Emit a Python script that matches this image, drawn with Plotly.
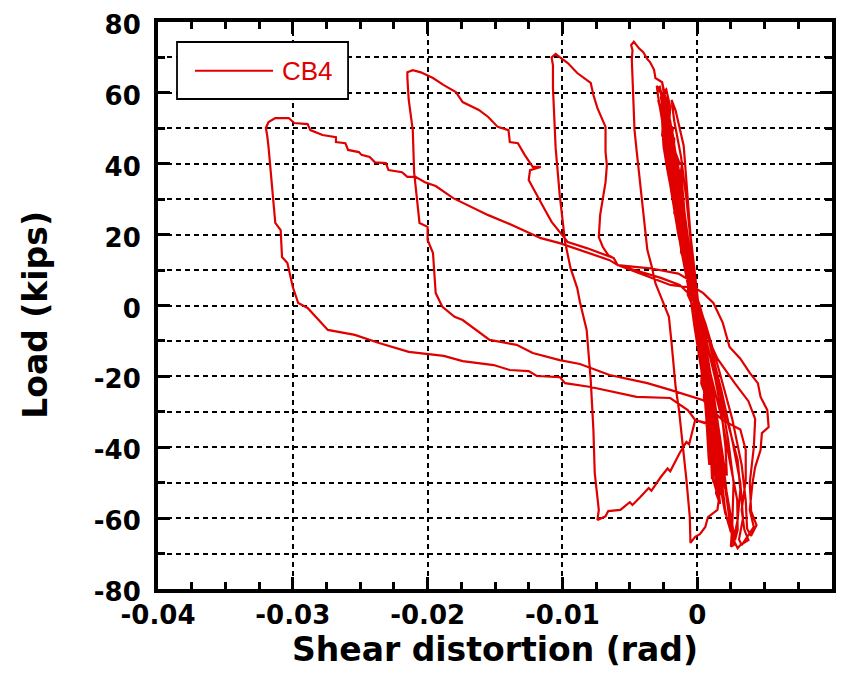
import numpy as np
import plotly.graph_objects as go

# Specimen CB4: coupling-beam shear distortion (mrad) vs. applied load (kips),
# listed cycle by cycle in the order the load history was applied.

small_gamma = [0, -0.3, -0.6, -0.8, -0.6, -0.2, 0.2, 0.5, 0.7, 0.5, 0.1, -0.4,
               -0.8, -1.1, -1.2, -1.0, -0.5, 0.1, 0.6, 0.9, 1.0, 0.8, 0.3, -0.3,
               -0.9, -1.3, -1.5, -1.3, -0.8, -0.2, 0.5, 0.9, 1.1, 0.95, 0.4, -0.2,
               -0.8, -1.2, -1.1, -1.3, -1.6, -1.8, -1.6, -1.0, -0.3, 0.4, 0.8, 1.1, 1.2, 1.0, 0.5, 0.0]
small_load = [0, 8, 16, 21, 17, 6, -6, -15, -21, -16, -4, 9,
              20, 29, 32, 27, 12, -3, -18, -28, -32, -26, -9, 6,
              22, 34, 41, 37, 22, 4, -17, -32, -41, -36, -14, 3,
              20, 38, 40.5, 40, 43, 47, 43, 28, 8, -12, -30, -44, -47, -40, -20, -2]

bundle_a_gamma = [-0.5, -1.1, -1.5, -1.7, -1.9, -1.8, -1.5, -1.2, -1.25, -0.8, -0.3, 0.2, 0.5, 0.8,
                  0.9, 0.85, 0.7, 0.4, 0.0, -0.6, -1.2, -1.7, -2.0, -2.2, -2.1, -1.8, -1.4, -1.45,
                  -0.9, -0.3, 0.3, 0.7, 1.0, 1.2, 1.15, 0.9, 0.5, 0.1, -0.7, -1.4, -1.8, -2.0, -1.9,
                  -1.6, -1.1, -0.5, 0.2, 0.7, 1.1, 1.3, 1.25, 0.9, 0.4, 0.0]
bundle_a_load = [10, 27, 38, 44, 50, 48, 40, 31, 30, 18, 5, -10, -22, -35,
                 -45, -43, -33, -18, -4, 12, 30, 45, 52, 55, 53, 45, 33, 31,
                 17, 3, -12, -28, -40, -50, -48, -35, -18, -3, 15, 35, 46, 52, 50,
                 40, 25, 8, -8, -26, -40, -48, -45, -30, -12, 0]

c64_gamma = [-0.6, -1.2, -1.7, -2.1, -2.4, -2.6, -2.5, -2.2, -1.9, -1.5, -1.0, -0.4, 0.3, 0.8, 1.0,
             1.1, 1.15, 0.9, 0.4, -0.2, -0.9, -1.6, -2.0, -2.3, -2.1, -1.7, -1.2, -0.5, 0.4, 1.0,
             1.4, 1.6, 1.75, 1.5, 1.1, 0.4, -0.3]
c64_load = [10, 26, 40, 51, 58, 63, 61, 53, 45, 34, 20, 5, -12, -30, -40,
            -49, -46, -32, -14, 2, 20, 37, 49, 57, 54, 42, 27, 8, -13, -35,
            -48, -54, -52, -50, -36, -12, 4]

bundle_b_gamma = [-0.8, -1.5, -2.0, -2.3, -2.5, -2.4, -2.1, -2.15, -1.7, -1.1, -0.5, 0.2, 0.7, 1.1,
                  1.4, 1.6, 1.5, 1.2, 0.7, 0.2, -0.6, -1.3, -1.9, -2.3, -2.7, -2.8, -2.6, -2.2,
                  -1.7, -1.0, -0.3, 0.4, 1.0, 1.5, 1.9, 2.1, 2.0, 1.6, 1.0, 0.3, -0.5, -1.3, -2.0,
                  -2.4, -2.8, -2.7, -2.3, -2.0, -1.5, -0.9, -0.2, 0.5, 1.1, 1.7, 2.2, 2.5, 2.4, 2.1,
                  1.5, 0.8, 0.1]
bundle_b_load = [18, 36, 48, 55, 60, 58, 50, 48, 36, 20, 6, -8, -24, -38,
                 -48, -55, -52, -40, -22, -6, 12, 30, 45, 54, 61, 62, 58, 47,
                 33, 16, 2, -14, -32, -46, -55, -59, -55, -42, -24, -6, 9, 30, 48,
                 56, 62, 60, 50, 43, 30, 15, 0, -16, -35, -50, -60, -64, -60, -50,
                 -34, -16, -2]

bundle_c_gamma = [0.2, -0.4, -0.3, -0.9, -0.8, -1.4, -1.2, -1.8, -1.6, -2.1, -1.9, -2.4, -2.2, -2.6, -2.3,
                  -2.0, -2.1, -1.7, -1.8, -1.3, -1.4, -0.9, -1.0, -0.5, -0.6, -0.1, 0.2, 0.1, 0.6, 0.5,
                  0.9, 0.8, 1.2, 1.1, 1.4, 1.3,
                  0.9, 1.0, 0.5, 0.6, 0.1, 0.2, -0.3, -0.2, -0.8, -0.6, -1.2, -1.0, -1.6, -1.4, -2.0,
                  -1.8, -2.4, -2.2, -2.7,
                  -2.5, -2.6, -2.0, -2.2, -1.6, -1.7, -1.1, -1.2, -0.6, -0.7, -0.1, 0.0, 0.4, 0.3, 0.8,
                  0.7, 1.1, 1.0, 1.5, 1.4, 1.7, 1.5,
                  1.2, 0.7, 0.3, -0.2, -0.7, -1.3, -1.9, -2.5, -2.9, -2.7, -2.3, -1.8, -1.2, -0.6, 0.0,
                  0.5, 1.0, 1.6, 1.9, 1.8, 1.3, 0.6, 0.0]
bundle_c_load = [-2, 8, 10, 18, 21, 28, 31, 38, 40, 46, 49, 55, 58, 60, 61,
                 56, 50, 47, 41, 36, 30, 24, 18, 12, 6, 0, -6, -12, -18, -24,
                 -30, -36, -42, -48, -52, -46,
                 -38, -32, -26, -20, -14, -8, -2, 4, 10, 16, 22, 28, 34, 40, 44,
                 50, 53, 57, 59,
                 54, 48, 44, 38, 33, 26, 22, 15, 10, 3, -2, -10, -15, -22, -27,
                 -34, -38, -44, -47, -53, -56, -50,
                 -40, -30, -18, -6, 8, 22, 38, 52, 58, 55, 44, 30, 16, 4, -8,
                 -20, -33, -46, -53, -48, -36, -18, -2]

bundle_d_gamma = [0.1, -0.5, -0.7, -0.9, -1.0, -1.3, -1.6, -1.9, -1.7, -1.2, -0.8, -0.4, 0.1, 0.8,
                  1.3, 1.8, 2.1, 2.2, 2.0, 1.6, 1.1, 0.5, -0.3, -1.1, -1.7, -2.2, -2.5, -2.6, -2.7,
                  -2.5, -2.4, -2.0, -1.4, -0.6, 0.2, 0.6, 1.0, 1.5, 1.9, 2.1, 1.9, 1.4, 0.8, 0.2]
bundle_d_load = [0, 20, 30, 40, 45, 50, 55, 58, 52, 42, 30, 15, 0, -12,
                 -20, -30, -40, -48, -45, -35, -22, -8, 8, 18, 28, 38, 45, 52, 57,
                 55, 46, 34, 20, 6, -6, -16, -26, -36, -44, -50, -47, -34, -18, -4]

c74_gamma = [-1.0, -1.6, -2.0, -2.2, -2.4, -2.6, -3.1, -3.2, -3.5, -3.7, -4.0, -4.3, -4.7, -4.9,
             -4.8, -4.85, -4.75, -4.65, -4.5, -4.3, -4.1, -3.95, -3.7, -3.4, -3.1, -2.6, -2.1,
             -1.9, -1.8, -1.6, -1.35, -1.1, -0.8, -0.55, -0.5, -0.15, 0.2, 0.6, 0.8, 1.5, 1.7,
             1.4, 0.9, 0.3, -0.3]
c74_load = [18, 35, 48, 57, 59.4, 63, 64.2, 66.5, 68.7, 69.5, 71.5, 72.5, 74.4, 73.5,
            72, 69.4, 58, 49.5, 43.9, 36.8, 29.8, 22.7, 15.7, 11.4, 6.3, 1.6, -3.2,
            -10.6, -15.4, -23, -29.5, -38, -49.2, -59.7, -67, -65.3, -64.5, -62.5, -59.7, -57.7, -52,
            -42, -27, -9, 4]

c74b_gamma = [-1.1, -1.8, -2.3, -2.7, -3.0, -2.9, -2.5, -2.0, -1.3, -0.6, 0.45, 1.2, 1.9, 2.4,
              3.2, 3.9, 4.5, 4.7, 5.2, 5.3, 4.8, 4.7, 4.3, 4.1, 3.9, 4.2, 3.8, 3.3, 3.1, 3.4,
              3.2, 2.6, 1.8, 0.9, 0.2, -0.5]
c74b_load = [22, 40, 52, 60, 62, 59, 50, 38, 22, 6, 3.5, 0.7, -4.9, -11.7,
             -15, -19, -21.9, -25.8, -29.5, -34.3, -36, -40.8, -45.6, -50.1, -57.7, -62.5, -64.8, -67.6, -66, -60,
             -50, -38, -24, -10, 0, 7]

c70_gamma = [-1.4, -3.5, -5.9, -6.2, -6.6, -7.0, -7.3, -7.2, -7.0, -6.8, -6.7, -6.8, -6.8, -7.0,
             -7.4, -7.7, -7.9, -8.9, -9.6, -10.2, -10.5, -10.8, -10.7, -10.7, -10.5, -10.2, -10.0,
             -9.8, -9.4, -8.9, -8.7, -8.2, -7.9, -7.7, -7.6, -7.3, -7.4,
             -6.8, -6.6, -5.7, -5.0, -4.8, -4.2, -3.6, -3.4, -2.7, -2.2, -2.0, -1.3, -0.8, -0.6,
             -0.3, -0.15, 0.74, 1.3, 1.9, 2.3, 2.6, 2.8, 3.0, 2.97, 2.4, 1.85, 1.1, 0.2, -0.15]
c70_load = [9, 10.5, 11.4, 13.4, 14.2, 16.5, 19.3, 25.5, 30.3, 34.8, 39.6, 43.3, 50.4, 52.3,
            55.7, 59.4, 62.8, 65.6, 68.4, 70.1, 71, 70, 67.8, 61.4, 44.4, 31.2, 23.6,
            17.9, 10.6, 4.9, 1.0, -6.9, -21, -35.1, -47.3, -57.7, -60.5,
            -59.5, -58.0, -57.7, -55.5, -56.3, -54, -51.5, -52.3, -48.4, -46.0, -46.8, -41.6, -38.5, -39.2,
            -34.3, -32.3, -33.4, -38, -46.4, -54.9, -62, -66.2, -63.3, -54.9, -43.6, -32.3, -21, -6.9, 1.6]

c67_gamma = [-1.3, -2.7, -5.9, -6.2, -8.2, -9.6, -10.2, -10.8, -11.3, -11.6, -12.0, -12.5, -12.4,
             -11.6, -12.2, -12.8, -13.3, -13.9, -14.0, -14.8, -15.5, -16.2, -17.4, -17.9, -18.8,
             -19.6, -20.5, -21.1, -21.5, -21.5, -21.4, -21.1, -21.0, -20.8, -20.6, -20.0, -20.0,
             -19.6, -19.4, -18.9, -18.0, -17.4, -15.4, -13.4, -12.2, -10.2, -8.7, -6.5, -3.7,
             -2.0, 0.45, 1.85, 3.2, 3.6, 3.6, 3.3, 3.5, 3.8, 3.2, 3.0, 2.7, 3.0, 3.2, 3.0, 2.4,
             1.6, 0.6, 0.07, -0.5]
c67_load = [5.8, 7.8, 11.4, 13.4, 16.2, 17.9, 20.7, 23.6, 27, 29.2, 32, 35.4, 38.2,
            39.1, 39.1, 42.5, 45.8, 46.1, 49.5, 50.4, 53.2, 55.2, 57.4, 60.2, 62.2,
            64.2, 65.8, 66.4, 65.8, 64.2, 58, 49.5, 37.6, 29.8, 23.3, 22.2, 18.5,
            14.8, 3.5, -0.4, -3.2, -4.1, -9.7, -11.1, -13.4, -15.4, -16.5, -19.6, -21.9,
            -23.8, -26.7, -32.3, -35, -40.8, -49.2, -57.7, -63.3, -66.2, -67.6, -68.5, -66.2, -60.5, -52, -43.6, -35,
            -23.8, -9.7, -1.3, 4.4]

mid_gamma = [-1.2, -2.2, -2.6, -2.2, -1.2, 0.3, 1.5, 2.8, 3.8, 4.3, 4.2, 3.9, 4.0, 4.4, 4.0, 3.7,
             3.6, 3.3, 2.6, 1.6, 0.6, -0.4]
mid_load = [25, 48, 57, 50, 28, -5, -15, -22, -27, -32, -40, -50, -58, -62, -65, -63,
            -55, -45, -32, -18, -5, 5]

c53_gamma = [-2.0, -5.9, -6.5, -8.2, -10.2, -11.6, -12.9, -14.1, -15.5, -16.7, -18.1, -19.4,
             -20.2, -20.9, -21.5, -21.9, -22.9, -23.1, -23.9, -24.3, -24.9, -25.1, -25.9, -26.1,
             -26.8, -26.8, -27.8, -28.7, -28.9, -29.9, -30.3, -31.3, -31.8, -32.0, -31.9, -31.8,
             -31.6, -31.5, -31.3, -30.9, -30.8, -30.4, -30.0, -29.6, -28.9, -27.4, -25.4, -23.6,
             -21.4, -18.8, -17.4, -15.1, -13.9, -12.5, -11.9, -10.2, -9.8, -7.9, -4.5, -2.0,
             -1.5, -0.7, -0.15, 0.74, 1.3, 2.1, 2.4, 2.7, 2.5, 2.6, 2.7, 2.3, 1.5, 0.5, 0.0]
c53_load = [5.8, 11.4, 12.8, 15.1, 17.6, 19, 21.3, 23.3, 25.5, 27.8, 30.3, 33.7,
            34.8, 36.3, 36.3, 37.6, 38.2, 40.2, 40.4, 41.9, 42.5, 43.3, 43.9, 45.8,
            46.1, 47.5, 48.1, 49.5, 51.2, 51.5, 52.9, 52.9, 51.8, 50.1, 48, 44.7,
            36.3, 31.7, 23.3, 21.3, 13.7, 12.0, 5.2, 0.7, -0.7, -6.9, -8.3, -10.6,
            -13.1, -14.2, -15.7, -16.8, -18.2, -18.5, -19.9, -20.2, -21.9, -23, -25.8, -26.1,
            -27.5, -29.5, -32.3, -33.2, -40.8, -52, -60.5, -67.6, -68, -62, -50, -38, -20, -4, 2]

gamma_mrad = np.concatenate([small_gamma, bundle_a_gamma, c64_gamma, bundle_b_gamma, bundle_c_gamma,
                             bundle_d_gamma, c74_gamma, c74b_gamma, c70_gamma, c67_gamma,
                             mid_gamma, c53_gamma])
load_kips = np.concatenate([small_load, bundle_a_load, c64_load, bundle_b_load, bundle_c_load,
                            bundle_d_load, c74_load, c74b_load, c70_load, c67_load,
                            mid_load, c53_load])
distortion_rad = gamma_mrad / 1000.0

x_ticks = [-0.04, -0.03, -0.02, -0.01, 0, 0.01]
x_labels = ["-0.04", "-0.03", "-0.02", "-0.01", "0", "0.01"]
y_ticks = [-80, -60, -40, -20, 0, 20, 40, 60, 80]
y_labels = ["-80", "-60", "-40", "-20", "0", "20", "40", "60", "80"]

RED = "#e00000"
TICKFONT = dict(family="DejaVu Sans", size=26, color="black", weight="bold")
TITLE = dict(family="DejaVu Sans", size=33, color="black", weight="bold")

fig = go.Figure(go.Scatter(x=distortion_rad, y=load_kips, mode="lines", name="CB4",
                           line=dict(color=RED, width=2.2), showlegend=False))

axis_common = dict(showline=True, linewidth=4, linecolor="black", mirror="ticks",
                   ticks="inside", ticklen=12, tickwidth=3, tickcolor="black",
                   showgrid=True, gridcolor="black", gridwidth=1.6, griddash="5px,4px",
                   zeroline=False, tickfont=TICKFONT)

fig.update_xaxes(range=[-0.04, 0.01], tickmode="array", tickvals=x_ticks, ticktext=x_labels,
                 minor=dict(dtick=0.0025, ticks="inside", ticklen=7, tickwidth=3,
                            tickcolor="black", showgrid=False),
                 ticklabelstandoff=0,
                 **axis_common)
fig.update_yaxes(range=[-80, 80], tickmode="array", tickvals=y_ticks, ticktext=y_labels,
                 minor=dict(dtick=10, ticks="inside", ticklen=7, tickwidth=3,
                            tickcolor="black", showgrid=True, gridcolor="black",
                            gridwidth=1.6, griddash="5px,4px"),
                 ticklabelstandoff=8, ticklabelshift=3,
                 **axis_common)

# Axis titles placed as paper-anchored text
fig.add_annotation(xref="paper", yref="paper", x=0.5, y=-0.106, xanchor="center", yanchor="middle",
                   text="Shear distortion (rad)", showarrow=False, font=TITLE)
fig.add_annotation(xref="paper", yref="paper", x=-0.183, y=0.483, xanchor="center", yanchor="middle",
                   text="Load (kips)", textangle=-90, showarrow=False, font=TITLE)

# Legend box drawn in paper coordinates
fig.add_shape(type="rect", xref="paper", yref="paper", x0=0.0282, x1=0.282, y0=0.8642, y1=0.9647,
              line=dict(color="black", width=1.8), fillcolor="white", layer="above")
fig.add_shape(type="line", xref="paper", yref="paper", x0=0.0549, x1=0.1706, y0=0.9141, y1=0.9141,
              line=dict(color=RED, width=2), layer="above")
fig.add_annotation(xref="paper", yref="paper", x=0.181, y=0.9141, xanchor="left", yanchor="middle",
                   text="CB4", showarrow=False,
                   font=dict(family="Liberation Sans", size=26, color=RED))

fig.update_layout(width=860, height=688, margin=dict(l=158, r=28, t=22, b=99, autoexpand=False),
                  paper_bgcolor="white", plot_bgcolor="white")

fig.write_html("out.html")
